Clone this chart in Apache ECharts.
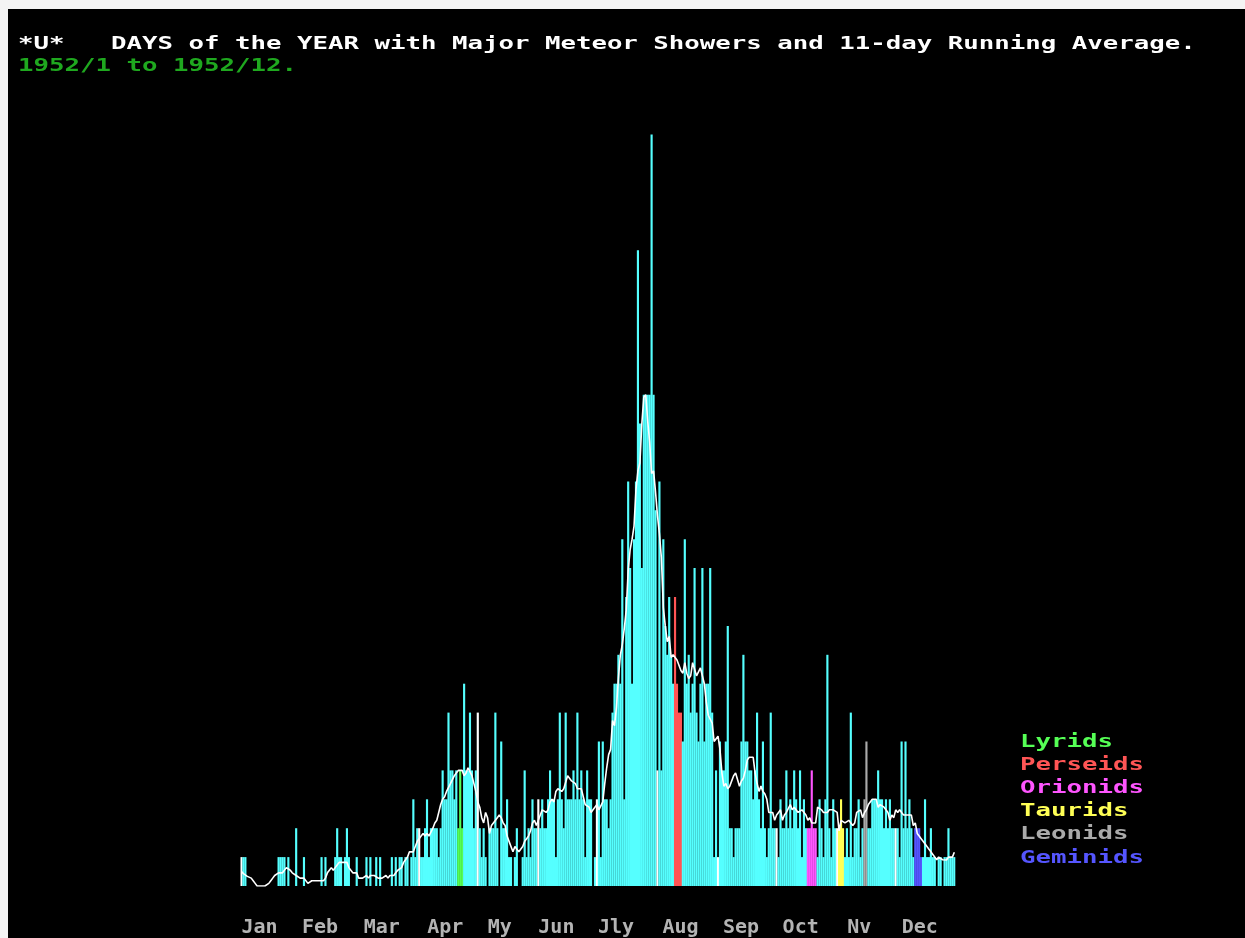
<!DOCTYPE html>
<html><head><meta charset="utf-8">
<script src="https://cdn.jsdelivr.net/npm/echarts@6/dist/echarts.min.js"></script>
<style>
html,body{margin:0;padding:0;background:#f4f4f4;width:1245px;height:938px;overflow:hidden}
#c{position:absolute;left:8px;top:9px;width:1237px;height:929px}
</style></head><body><div id="c"></div>
<script>
// ---- data (daily counts, 1952, one array per month) ----
const monthLabels = ['Jan','Feb','Mar','Apr','My','Jun','Jly','Aug','Sep','Oct','Nv','Dec'];
const jan = [1,1,1,0,0,0,0,0,0,0,0,0,0,0,0,0,0,0,0,1,1,1,1,0,1,0,0,0,2,0,0];
const feb = [0,1,0,0,0,0,0,0,0,0,1,0,1,0,0,0,0,1,2,1,1,0,1,2,1,0,0,0,1];
const mar = [0,0,0,0,1,0,1,0,0,1,0,1,0,0,0,0,0,1,0,1,0,1,1,0,1,1,0,1,3,1,2];
const apr = [2,1,1,2,3,1,2,2,2,2,1,2,4,3,3,6,4,4,3,4,2,4,2,7,4,4,6,4,2,4];
const may = [6,2,1,2,1,0,2,2,2,6,2,0,5,2,2,3,1,1,0,1,2,0,0,1,4,1,2,1,3,2,2];
const jun = [3,2,3,2,2,3,4,3,3,1,3,6,3,2,6,3,3,3,4,3,6,3,4,3,1,4,3,3,0,1];
const jul = [3,5,1,5,3,3,2,3,6,7,7,8,7,12,3,10,14,11,7,12,14,22,16,11,17,17,17,17,26,17,13];
const aug = [4,14,4,12,9,8,10,8,7,10,7,6,6,5,12,7,8,6,7,11,6,5,7,11,5,7,7,11,6,1,4];
const sep = [1,5,4,4,5,9,2,2,1,2,2,2,5,8,5,5,4,4,3,4,6,3,2,5,2,1,2,6,2,2];
const oct = [2,1,3,2,2,4,2,3,2,4,3,2,4,1,3,2,2,2,4,2,2,1,3,2,1,3,8,2,1,3,2];
const nov = [2,2,3,2,1,2,1,6,1,2,2,3,1,2,3,5,2,2,3,3,3,4,3,3,2,3,2,3,2,2];
const dec = [2,2,1,5,2,5,2,3,2,1,2,2,2,1,1,3,1,1,2,1,1,0,1,1,0,1,1,2,1,1,1];

// shower names, colours and highlighted days (0-based day of year)
const showers = ['Lyrids','Perseids','Orionids','Taurids','Leonids','Geminids'];
const showerColors = ['#55ff55','#ff5555','#ff55ff','#ffff55','#aaaaaa','#5555ff'];
const showerDays = [[111,112,113],[222,223,224,225],[290,291,292,293,294],[306,307,308],[319,320],[345,346,347,348]];

const titleText = '*U*   DAYS of the YEAR with Major Meteor Showers and 11-day Running Average.';
const subText = '1952/1 to 1952/12.';

// ---- build ----
const months = [jan,feb,mar,apr,may,jun,jul,aug,sep,oct,nov,dec];
const counts = [].concat(...months);
const monthStart = [];
let acc = 0;
months.forEach(m => { monthStart.push(acc); acc += m.length; });
const days = counts.map((_, i) => String(i + 1));

const dayColor = {};
showerDays.forEach((ds, k) => ds.forEach(d => { dayColor[d] = showerColors[k]; }));
monthStart.forEach(d => { if (!(d in dayColor)) dayColor[d] = '#ffffff'; });

const barData = counts.map((v, i) => dayColor[i] ? {value: v, itemStyle: {color: dayColor[i]}} : v);

const avg = counts.map((_, i) => {
  let s = 0, n = 0;
  for (let j = i - 5; j <= i + 5; j++) if (j >= 0 && j < counts.length) { s += counts[j]; n++; }
  return +(s / n).toFixed(3);
});

// label nudges (px) so the month names sit as in the original print-out
const labelShift = [0,0,5,8,10,0,1,5,5,6,10,6];
const rich = {};
labelShift.forEach((p, k) => {
  rich['m' + k] = {padding: [0, 0, 0, p], color: '#b4b4b4', fontFamily: 'DejaVu Sans Mono', fontWeight: 'bold', fontSize: 20};
});

const FONT = 'bold 18px "DejaVu Sans Mono"';
const SX = 1.43;
const graphics = [
  {type:'text', x:10, y:35, scaleX:SX, style:{text:titleText, fill:'#ffffff', font:FONT, verticalAlign:'middle'}},
  {type:'text', x:10, y:57, scaleX:SX, style:{text:subText, fill:'#1fa81f', font:FONT, verticalAlign:'middle'}}
];
showers.forEach((s, k) => {
  graphics.push({type:'text', x:1012, y:733 + k * 23.2, scaleX:SX,
    style:{text:s, fill:showerColors[k], font:FONT, verticalAlign:'middle'}});
});

const chart = echarts.init(document.getElementById('c'), null, {renderer:'canvas'});
chart.setOption({
  backgroundColor: '#000000',
  animation: false,
  grid: {left: 232.5, right: 289.7, top: 125.6, bottom: 39, containLabel: false},
  xAxis: {
    type: 'category', data: days, boundaryGap: true,
    axisLine: {show: false}, axisTick: {show: false}, splitLine: {show: false},
    axisLabel: {
      interval: (i) => monthStart.indexOf(i) >= 0,
      formatter: (v, i) => { const k = monthStart.indexOf(i); return '{m' + k + '|' + monthLabels[k] + '}'; },
      rich: rich, hideOverlap: false,
      align: 'left', margin: 32, color: '#b4b4b4',
      fontFamily: 'DejaVu Sans Mono', fontWeight: 'bold', fontSize: 20
    }
  },
  yAxis: {type: 'value', min: 0, max: 26, show: false, splitLine: {show: false}},
  series: [
    {name: 'Daily count', type: 'bar', data: barData, barWidth: 2.15,
     itemStyle: {color: '#55ffff'}, z: 2},
    {name: '11-day Running Average', type: 'line', data: avg, symbol: 'none',
     lineStyle: {color: '#ffffff', width: 1.6}, z: 3}
  ],
  graphic: graphics
});
</script></body></html>
